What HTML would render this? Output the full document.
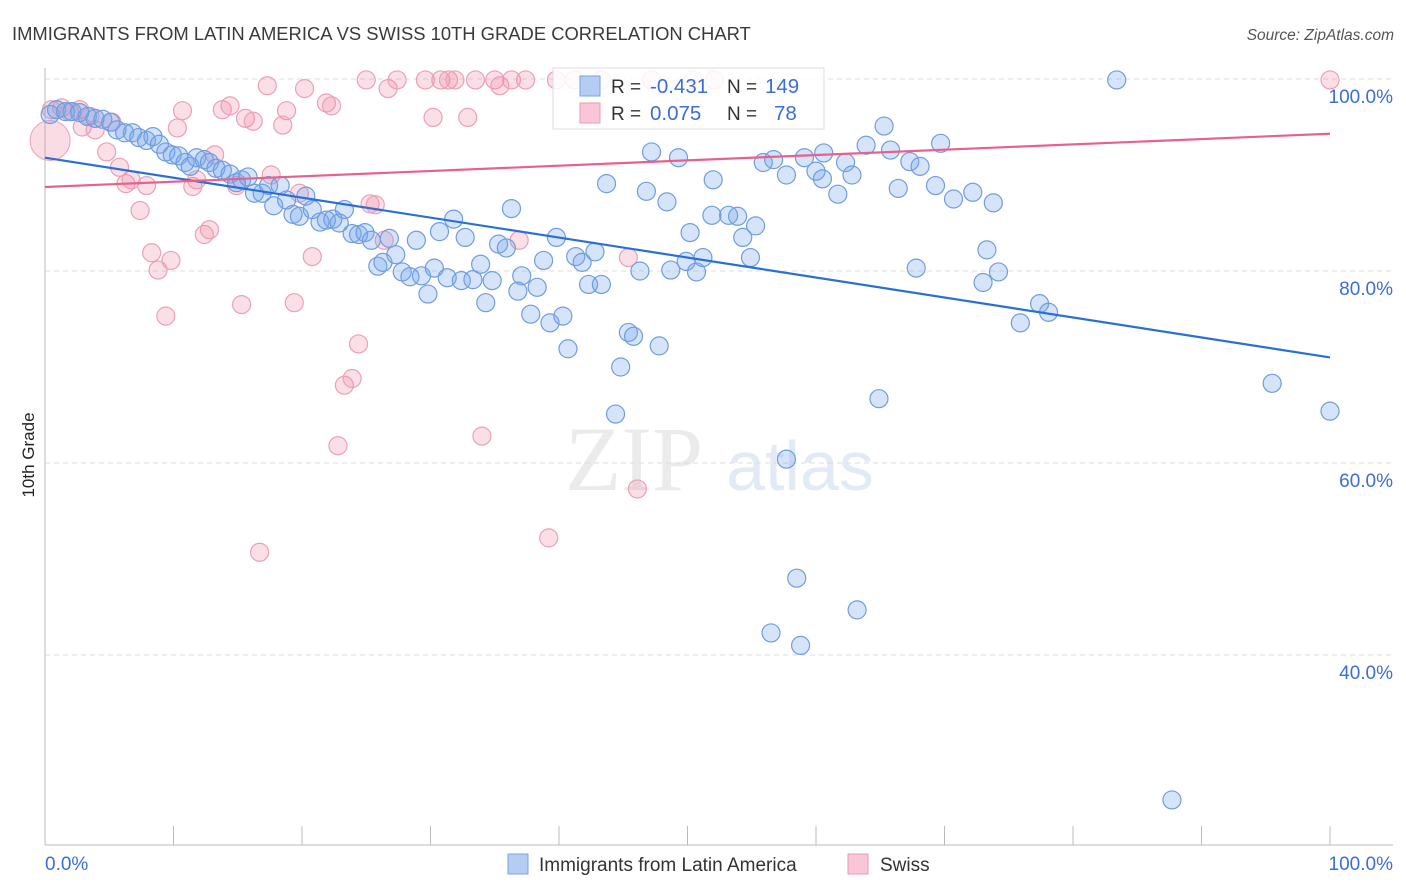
<!DOCTYPE html>
<html><head><meta charset="utf-8"><style>
body{margin:0;background:#fff;font-family:"Liberation Sans",sans-serif}
svg{display:block}
</style></head><body>
<svg id="chart" width="1406" height="892" xmlns="http://www.w3.org/2000/svg">
<text x="12" y="40" font-size="18.4" fill="#3a3a3a">IMMIGRANTS FROM LATIN AMERICA VS SWISS 10TH GRADE CORRELATION CHART</text>
<text x="1394" y="40" font-size="15.5" fill="#555" font-style="italic" text-anchor="end">Source: ZipAtlas.com</text>
<text x="34" y="455" font-size="17" fill="#222" transform="rotate(-90 34 455)" text-anchor="middle">10th Grade</text>
<g opacity="0.5">
<text x="634" y="490" font-size="92" font-family="Liberation Serif,serif" fill="#d8d8d8" text-anchor="middle">ZIP</text>
<text x="800" y="490" font-size="70" fill="#c6d7ef" text-anchor="middle">atlas</text>
</g>
<g id="grid"></g><g id="axes"></g><g id="pts"></g><g id="lines"></g>
<g>
<rect x="553" y="68" width="271" height="61" fill="#fff" fill-opacity="0.85" stroke="#ddd"/>
<rect x="580" y="76" width="20" height="20" fill="#b5cdf3" stroke="#7aa3e3"/>
<rect x="580" y="103" width="20" height="20" fill="#f8c6d6" stroke="#ea9bb4"/>
<text x="611" y="93" font-size="19" fill="#333">R = </text><text x="650" y="93" font-size="20.5" fill="#3a6fd6">-0.431</text>
<text x="727" y="93" font-size="19" fill="#333">N = </text><text x="765" y="93" font-size="20.5" fill="#3a6fd6">149</text>
<text x="611" y="120" font-size="19" fill="#333">R = </text><text x="650" y="120" font-size="20.5" fill="#3a6fd6">0.075</text>
<text x="727" y="120" font-size="19" fill="#333">N = </text><text x="774" y="120" font-size="20.5" fill="#3a6fd6">78</text>
</g>
<g>
<rect x="508" y="854" width="20" height="20" fill="#b5cdf3" stroke="#7aa3e3"/>
<text x="539" y="871" font-size="19" fill="#333">Immigrants from Latin America</text>
<rect x="848" y="854" width="20" height="20" fill="#f8c6d6" stroke="#ea9bb4"/>
<text x="880" y="871" font-size="19" fill="#333">Swiss</text>
</g>
</svg>
<script>
const yTicks=[40,60,80,100];
const yTickLabels=["40.0%","60.0%","80.0%","100.0%"];
const xTickLabels=["0.0%","100.0%"];
const blueX=[0.4,0.9,1.6,2.1,2.7,3.3,3.9,4.5,5.1,5.6,6.2,6.8,7.3,7.9,8.4,8.9,9.4,9.9,10.4,10.9,11.3,11.8,12.4,12.8,13.3,13.8,14.4,14.9,15.3,15.8,16.3,16.9,17.4,17.8,18.3,18.8,19.3,19.8,20.3,20.8,21.4,21.9,22.4,22.9,23.3,23.9,24.4,24.9,25.4,25.9,26.3,26.8,27.3,27.8,28.4,28.9,29.3,29.8,30.3,30.7,31.3,31.8,32.4,32.7,33.3,33.9,34.3,34.8,35.3,35.9,36.3,36.8,37.1,37.8,38.3,38.8,39.3,39.8,40.3,40.7,41.3,41.8,42.3,42.8,43.3,43.7,44.4,44.8,45.4,45.8,46.3,46.8,47.2,47.8,48.4,48.7,49.3,49.9,50.2,50.7,51.2,52.0,51.9,53.2,53.9,54.3,54.9,55.3,55.9,56.5,56.7,57.7,57.7,58.5,58.8,59.1,60.0,60.5,60.6,61.7,62.3,62.8,63.2,63.9,64.9,65.3,65.8,66.4,67.3,67.8,68.1,69.3,69.7,70.7,72.2,73.0,73.3,73.8,74.2,75.9,77.4,78.1,83.4,87.7,95.5,100];
const blueY=[96.3,96.8,96.6,96.6,96.5,96.1,95.9,95.8,95.5,94.7,94.4,94.4,93.9,93.6,94.0,93.2,92.4,92.1,92.0,91.3,90.9,91.8,91.6,91.3,90.7,90.5,90.1,89.2,89.5,89.8,88.1,88.1,88.9,86.8,88.9,87.4,85.9,85.7,87.8,86.4,85.1,85.3,85.4,85.0,86.4,83.9,83.8,84.0,83.2,80.5,80.9,83.4,81.7,79.9,79.4,83.2,79.5,77.6,80.3,84.1,79.3,85.4,79.0,83.5,79.1,80.7,76.7,79.0,82.8,82.4,86.5,77.9,79.5,75.5,78.3,81.1,74.6,83.5,75.3,71.9,81.5,80.9,78.6,82.0,78.6,89.1,65.1,70.0,73.6,73.2,80.0,88.3,92.4,72.2,87.2,80.1,91.8,81.0,84.0,79.9,81.4,89.5,85.8,85.8,85.7,83.5,81.4,84.7,91.3,42.3,91.6,90.0,60.4,48.0,41.0,91.8,90.4,89.6,92.3,88.0,91.3,90.0,44.7,93.1,66.7,95.1,92.6,88.6,91.4,80.3,90.9,88.9,93.3,87.5,88.2,78.8,82.2,87.1,79.9,74.6,76.6,75.7,99.9,24.9,68.3,65.4];
const pinkX=[0.5,1.3,1.9,2.7,2.9,3.5,3.9,4.8,5.2,5.8,6.3,6.7,7.4,7.9,8.3,8.8,9.4,9.8,10.3,10.7,11.5,11.8,12.4,12.8,13.2,13.8,14.4,14.9,15.3,15.6,16.2,16.7,17.3,17.6,18.8,18.5,19.4,19.8,20.2,20.8,21.9,22.3,22.8,23.3,23.9,24.4,25.0,25.3,25.7,26.4,26.7,27.4,29.6,30.2,30.8,31.4,31.9,32.9,33.5,34.0,35.0,35.4,36.3,36.9,37.4,39.2,39.8,41.2,43.3,45.4,46.1,47.2,50.4,52.1,100];
const pinkY=[96.8,97.0,96.6,96.8,95.0,96.1,94.7,92.4,95.5,90.8,89.1,89.5,86.3,88.9,81.9,80.1,75.3,81.1,94.9,96.7,88.8,89.5,83.8,84.3,92.1,96.8,97.2,88.9,76.5,95.9,95.6,50.7,99.3,90.0,96.7,95.2,76.7,88.1,99.0,81.5,97.5,97.2,61.8,68.1,68.8,72.4,99.9,87.0,86.9,83.2,99.0,99.9,99.9,96.0,99.9,99.9,99.9,96.0,99.9,62.8,99.9,99.3,99.9,83.2,99.9,52.2,99.9,99.9,99.9,81.4,57.3,99.9,99.9,99.9,99.9];
const bigPink={x:0.4,y:93.6};
const blueFit=[91.8,71.0];
const pinkFit=[88.75,94.3];
const X0=45,X1=1330,YT=79,PX=9.6;
const sx=v=>X0+(X1-X0)*v/100, sy=v=>YT+(100-v)*PX;
const NS="http://www.w3.org/2000/svg";
function mk(tag,attrs,parent){const e=document.createElementNS(NS,tag);for(const k in attrs)e.setAttribute(k,attrs[k]);document.getElementById(parent).appendChild(e);return e;}
yTicks.forEach((t,i)=>{
  const g=mk('line',{x1:45,x2:1393,y1:sy(t),y2:sy(t),stroke:'#ddd','stroke-dasharray':'5,4'},'grid');
  
  
  const l=mk('text',{x:1393,y:sy(t)+24,'font-size':19,fill:'#3a6fd6','text-anchor':'end'},'grid');
  l.textContent=yTickLabels[i];
  
  
});
const ax=mk('line',{x1:45,x2:1393,y1:845,y2:845,stroke:'#bbb'},'axes');


const ay=mk('line',{x1:45,x2:45,y1:68,y2:845,stroke:'#bbb'},'axes');


for(let i=0;i<=10;i++){
  const t=mk('line',{x1:sx(i*10),x2:sx(i*10),y1:826,y2:845,stroke:'#bbb'},'axes');
  
  
}
[[0,'start',45],[1,'end',1393]].forEach(([i,a,x])=>{
  const l=mk('text',{x:x,y:870,'font-size':19,fill:'#3a6fd6','text-anchor':a},'axes');
  l.textContent=xTickLabels[i];
  
  
});
const bp=mk('circle',{cx:sx(bigPink.x),cy:sy(bigPink.y),r:20,fill:'rgba(240,140,170,0.3)',stroke:'#eba0b8'},'pts');


pinkX.forEach((x,i)=>{
  const c=mk('circle',{cx:sx(x),cy:sy(pinkY[i]),r:9,fill:'rgba(240,140,170,0.28)',stroke:'#eba0b8','stroke-width':1.2},'pts');
  
  
});
blueX.forEach((x,i)=>{
  const c=mk('circle',{cx:sx(x),cy:sy(blueY[i]),r:9,fill:'rgba(120,165,235,0.3)',stroke:'#6f9de0','stroke-width':1.2},'pts');
  
  
});
const bl=mk('line',{x1:sx(0),y1:sy(blueFit[0]),x2:sx(100),y2:sy(blueFit[1]),stroke:'#2a6fd6','stroke-width':2.2},'lines');


const pl=mk('line',{x1:sx(0),y1:sy(pinkFit[0]),x2:sx(100),y2:sy(pinkFit[1]),stroke:'#e8618c','stroke-width':2.2},'lines');


</script>
</body></html>
